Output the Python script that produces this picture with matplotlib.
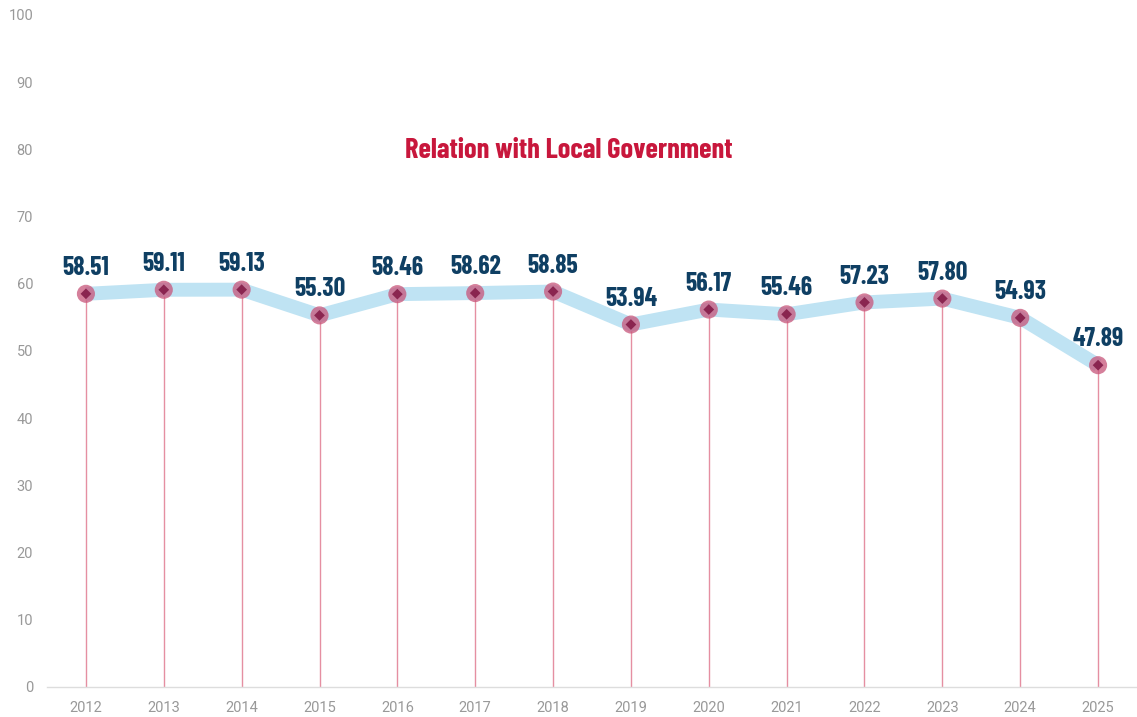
import matplotlib
matplotlib.use("Agg")
import matplotlib.pyplot as plt

years = ["2012", "2013", "2014", "2015", "2016", "2017", "2018",
         "2019", "2020", "2021", "2022", "2023", "2024", "2025"]
scores = [58.51, 59.11, 59.13, 55.30, 58.46, 58.62, 58.85,
          53.94, 56.17, 55.46, 57.23, 57.80, 54.93, 47.89]
y_ticks = [0, 10, 20, 30, 40, 50, 60, 70, 80, 90, 100]
title = "Relation with Local Government"

fig = plt.figure(figsize=(11.37, 7.17), dpi=100)
ax = fig.add_axes([47 / 1137, 30 / 717, 1 - 47 / 1137, 672 / 717])

x = list(range(len(years)))

# drop lines from each point down to the baseline
ax.vlines(x, 0, scores, color="#e58fa2", linewidth=1.0, zorder=1)
# thick pale trend line
ax.plot(x, scores, color="#bfe3f3", linewidth=10, solid_joinstyle="miter",
        solid_capstyle="butt", zorder=2)
# halo markers with a diamond core
ax.scatter(x, scores, s=170, color="#c8557a", alpha=0.75, edgecolors="none", zorder=3)
ax.scatter(x, scores, s=30, marker="D", color="#8a2550", edgecolors="none", zorder=4)

label_font = dict(family=["Barlow Condensed", "DejaVu Sans"], weight="bold")
for xi, v in zip(x, scores):
    ax.annotate(f"{v:.2f}", (xi, v), xytext=(0, 10), textcoords="offset points",
                ha="center", va="bottom", fontsize=18.5, color="#0f3f63",
                **label_font)

ax.text(0.5, 0.790, title, transform=fig.transFigure, ha="center", va="center",
        fontsize=20.5, color="#c8173c", **label_font)

ax.set_xlim(-0.5, len(years) - 0.5)
ax.set_ylim(0, 100)
ax.set_yticks(y_ticks)
ax.set_xticks(x)
ax.set_xticklabels(years)
ax.tick_params(axis="both", length=0, labelsize=10.5, labelcolor="#999999")
ax.tick_params(axis="y", pad=10)
ax.tick_params(axis="x", pad=10)
for lbl in ax.get_xticklabels() + ax.get_yticklabels():
    lbl.set_family("Roboto")

for side in ("top", "right", "left"):
    ax.spines[side].set_visible(False)
ax.spines["bottom"].set_color("#dddddd")
ax.spines["bottom"].set_linewidth(1)
ax.patch.set_visible(False)

fig.savefig("out.png", dpi=100)
